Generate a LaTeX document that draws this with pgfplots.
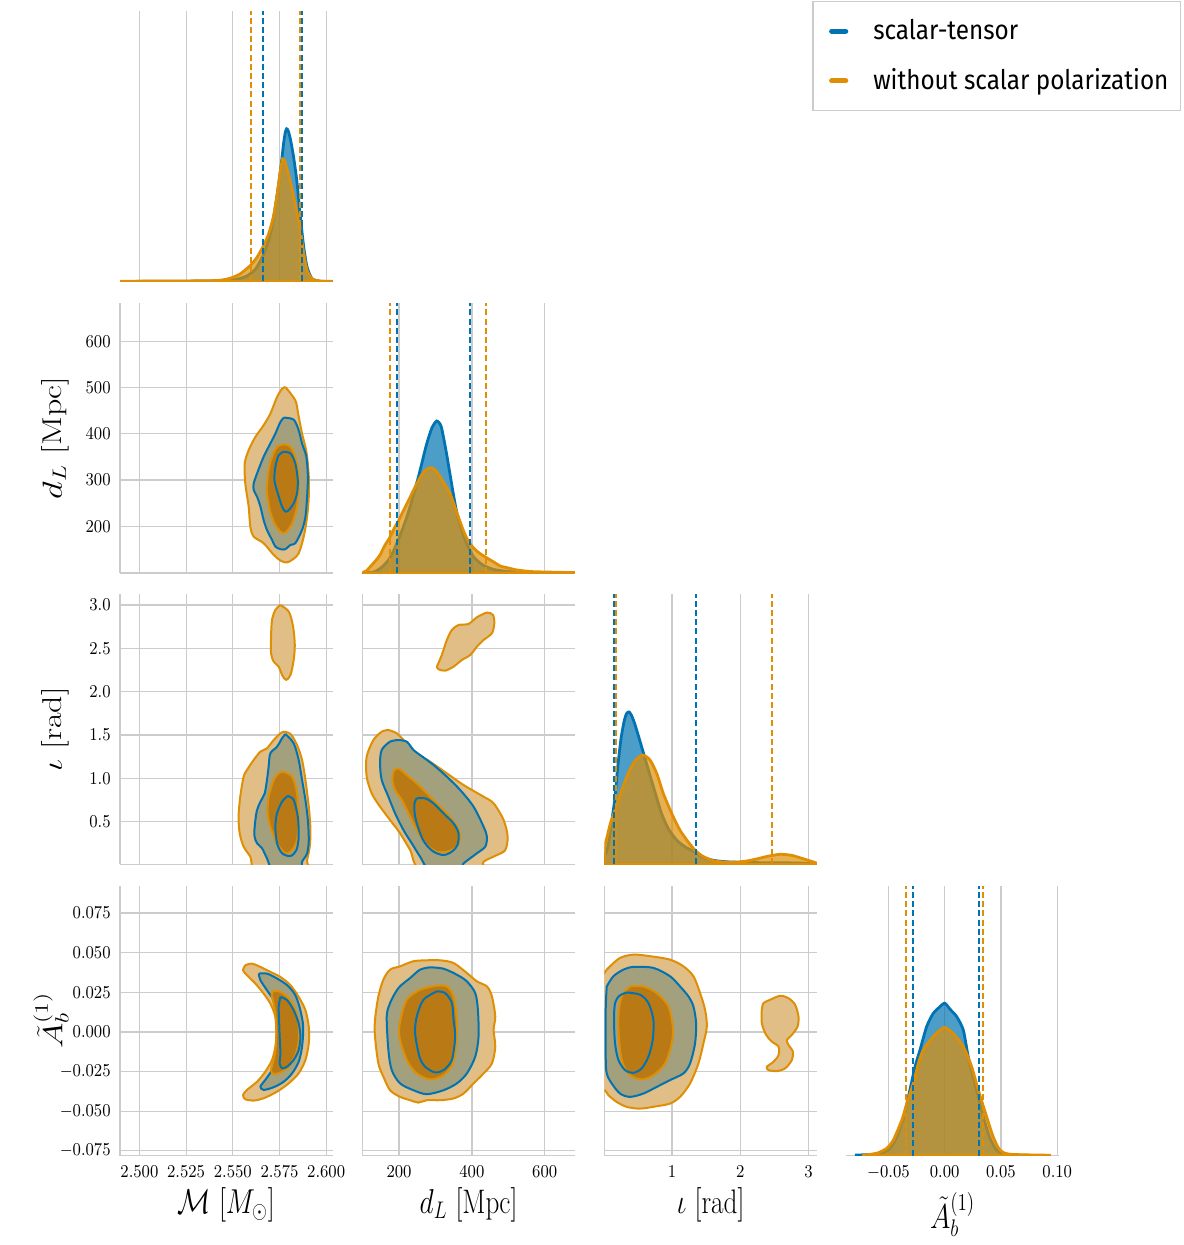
\documentclass[border=0pt]{standalone}
\usepackage{fontspec}
\usepackage{pgfplots}
\pgfplotsset{compat=1.18}
\newfontfamily\legendfont[FakeStretch=0.9]{Fira Sans}

\definecolor{cbblue}{HTML}{0173B2}
\definecolor{cborange}{HTML}{DE8F05}
\definecolor{gridgray}{HTML}{CCCCCC}
\definecolor{tanfill}{HTML}{E0BE85}
\definecolor{olivefill}{HTML}{A3A07D}
\definecolor{corefill}{HTML}{B97A16}

\pgfplotsset{
  cornerbase/.style={
    scale only axis, width=106.25pt, height=135pt,
    axis x line*=bottom, axis y line*=left,
    axis line style={draw=gridgray, line width=0.8pt, -},
    major tick length=0pt, scaled ticks=false,
    grid=major, major grid style={draw=gridgray, line width=0.6pt},
    tick label style={font=\fontsize{9}{10}\selectfont, xscale=0.9},
    xticklabel shift=1.5pt, yticklabel shift=1.5pt,
    label style={font=\fontsize{17}{20}\selectfont},
    xlabel style={at={(axis description cs:0.5,-0.117)}, anchor=north, inner sep=0pt, xscale=0.8},
    ylabel style={at={(axis description cs:-0.24,0.5)}, anchor=south, inner sep=0pt, yscale=0.8},
  },
  margbase/.style={cornerbase, axis y line=none, ymin=0, ymax=270, ytick=\empty,
    ymajorgrids=false, xmajorgrids=true},
  Mx/.style={xmin=2.4896, xmax=2.6034, xtick={2.5,2.525,2.55,2.575,2.6},
    xticklabel style={/pgf/number format/.cd, fixed, fixed zerofill, precision=3}},
  dLx/.style={xmin=99, xmax=682.6, xtick={200,400,600}},
  dLy/.style={ymin=99, ymax=682.6, ytick={200,300,400,500,600}},
  ix/.style={xmin=0.008, xmax=3.123, xtick={1,2,3}},
  iy/.style={ymin=0.008, ymax=3.123, ytick={0.5,1,1.5,2,2.5,3},
    yticklabel style={/pgf/number format/.cd, fixed, fixed zerofill, precision=1}},
  Ay/.style={ymin=-0.078, ymax=0.0924, ytick={-0.075,-0.05,-0.025,0,0.025,0.05,0.075},
    yticklabel style={/pgf/number format/.cd, fixed, fixed zerofill, precision=3}},
  Ax/.style={xmin=-0.0874, xmax=0.1014, xtick={-0.05,0,0.05,0.1},
    xticklabel style={/pgf/number format/.cd, fixed, fixed zerofill, precision=2}},
  noxl/.style={xticklabel={\relax}},
  noyl/.style={yticklabel={\relax}},
  % marginal densities
  bluekde/.style={draw=cbblue, line width=1.4pt, fill=cbblue, fill opacity=0.7, draw opacity=1, smooth, tension=0.4},
  orangekde/.style={draw=cborange, line width=1.4pt, fill=cborange, fill opacity=0.7, draw opacity=1, smooth, tension=0.4},
  bq/.style={draw=cbblue, line width=1pt, dash pattern=on 3pt off 1.6pt},
  oq/.style={draw=cborange, line width=1pt, dash pattern=on 3pt off 1.6pt},
  % credible-region contours
  oout/.style={fill=tanfill, draw=cborange, line width=1pt, smooth, tension=0.5, line join=round},
  bout/.style={fill=olivefill, draw=cbblue, line width=1pt, smooth, tension=0.5, line join=round},
  oin/.style={fill=corefill, draw=cborange, line width=1pt, smooth, tension=0.5, line join=round},
  bin/.style={fill=none, draw=cbblue, line width=1pt, smooth, tension=0.5, line join=round},
}

\begin{document}
\begin{tikzpicture}
\useasboundingbox (0,0) rectangle (591.5pt,-622.5pt);

% ---------- row 0: chirp mass marginal ----------
\begin{axis}[margbase, Mx, noxl, at={(60pt,-5.75pt)}, anchor=north west,
  legend style={at={(axis description cs:4.993,1.039)}, anchor=north east,
    draw=gridgray, line width=0.6pt, fill=white, text opacity=1,
    font=\legendfont\fontsize{13.5}{16}\selectfont,
    inner xsep=4pt, inner ysep=7pt, row sep=9pt, column sep=10.5pt},
  legend cell align=left,
  legend image code/.code={\path (0pt,0pt); \draw[#1, line width=2.6pt, line cap=round] (5pt,0pt) -- (12pt,0pt);}]
\addlegendimage{cbblue}
\addlegendentry{scalar-tensor}
\addlegendimage{cborange}
\addlegendentry{without scalar polarization}
\addplot[bluekde] table {
2.4896 0
2.5400 0.5
2.5500 1.5
2.5570 5
2.5620 12
2.5660 25
2.5690 40
2.5710 55
2.5728 75
2.5746 98
2.5760 118
2.5772 138
2.5781 149
2.5788 152.7
2.5796 151
2.5808 143
2.5826 124
2.5844 99
2.5862 64.3
2.5880 34.3
2.5898 14.3
2.5925 2.7
2.5970 0.3
2.6034 0
} \closedcycle;
\addplot[orangekde] table {
2.4896 0.3
2.5200 0.5
2.5415 1
2.5487 3.3
2.5540 7.7
2.5594 16
2.5630 24.3
2.5665 36
2.5692 47.7
2.5719 66
2.5740 90
2.5755 111
2.5767 122.7
2.5779 120
2.5791 112
2.5818 92
2.5844 67.7
2.5862 51
2.5880 27.7
2.5898 11
2.5925 2.7
2.5970 0.3
2.6034 0.3
} \closedcycle;
\addplot[oq] coordinates {(2.5599,0) (2.5599,270)};
\addplot[bq] coordinates {(2.5664,0) (2.5664,270)};
\addplot[oq] coordinates {(2.5862,0) (2.5862,270)};
\addplot[bq] coordinates {(2.5868,0) (2.5868,270)};
\end{axis}

% ---------- row 1 ----------
\begin{axis}[cornerbase, Mx, dLy, noxl, at={(60pt,-151.5pt)}, anchor=north west,
  ylabel={$d_L\ [\mathrm{Mpc}]$}]
\addplot[oout] coordinates {(2.5782,500.9) (2.5835,472.2) (2.5850,443.4) (2.5871,400.3) (2.5889,371.6) (2.5898,350.1) (2.5907,307.0) (2.5907,263.9) (2.5898,220.8) (2.5880,177.7) (2.5853,141.8) (2.5818,127.5) (2.5787,121.7) (2.5755,126.0) (2.5719,138.2) (2.5665,163.4) (2.5612,177.7) (2.5594,199.3) (2.5585,242.4) (2.5567,292.6) (2.5564,335.7) (2.5585,364.4) (2.5621,393.2) (2.5665,418.3) (2.5701,443.4) (2.5737,479.3) (2.5764,497.3) (2.5782,500.9)};
\addplot[bout] coordinates {(2.5773,434.8) (2.5826,430.5) (2.5853,407.5) (2.5871,378.8) (2.5894,350.1) (2.5902,307.0) (2.5898,263.9) (2.5889,220.8) (2.5871,192.1) (2.5835,163.4) (2.5809,159.8) (2.5782,150.5) (2.5755,150.5) (2.5728,156.2) (2.5710,170.6) (2.5683,192.1) (2.5665,213.6) (2.5648,242.4) (2.5630,263.9) (2.5612,278.3) (2.5612,292.6) (2.5630,314.2) (2.5665,350.1) (2.5701,378.8) (2.5728,400.4) (2.5755,425.5) (2.5773,434.8)};
\addplot[oin] coordinates {(2.5773,377.4) (2.5809,371.6) (2.5835,350.1) (2.5850,321.4) (2.5853,285.5) (2.5844,242.4) (2.5818,206.5) (2.5782,186.4) (2.5755,188.5) (2.5723,206.5) (2.5698,235.2) (2.5683,278.3) (2.5692,321.4) (2.5710,350.1) (2.5737,371.6) (2.5773,377.4)};
\addplot[bin] coordinates {(2.5773,360.9) (2.5809,357.3) (2.5835,335.7) (2.5848,299.8) (2.5844,271.1) (2.5826,249.5) (2.5800,235.2) (2.5782,231.6) (2.5764,242.4) (2.5741,271.1) (2.5723,299.8) (2.5728,328.5) (2.5746,353.7) (2.5773,360.9)};
\end{axis}

\begin{axis}[margbase, dLx, noxl, at={(181.15pt,-151.5pt)}, anchor=north west]
\addplot[bluekde] table {
99 0
130 1
150 5
175 15
200 35
225 60
253 96
275 128
290 145
303.7 152
316 146
331 118
349.5 78
360 58
375 40
386.3 29
405 16
430 8
460 3.5
500 1.5
560 0.4
682.6 0
} \closedcycle;
\addplot[orangekde] table {
99 0.5
110 2
120 6
135 12
147.7 18
160 27
175.2 36
187 45
198 52
210 61
221.2 69
240 83
260 97
275 103.5
287.2 105.3
300 103
320 92
340.4 79
358 61
377 42
390 32
404.5 25
420 20
441.4 15
460 11
478 7
500 5
524 3
560 1.5
600 1
682.6 0.4
} \closedcycle;
\addplot[oq] coordinates {(175.2,0) (175.2,270)};
\addplot[bq] coordinates {(195.3,0) (195.3,270)};
\addplot[bq] coordinates {(393.5,0) (393.5,270)};
\addplot[oq] coordinates {(439.8,0) (439.8,270)};
\end{axis}

% ---------- row 2 ----------
\begin{axis}[cornerbase, Mx, iy, noxl, at={(60pt,-297.15pt)}, anchor=north west,
  ylabel={$\iota\ [\mathrm{rad}]$}]
\addplot[oout] coordinates {(2.5755,3.0) (2.5800,2.923) (2.5823,2.75) (2.5832,2.538) (2.5826,2.365) (2.5809,2.192) (2.5785,2.135) (2.5764,2.192) (2.5746,2.288) (2.5719,2.346) (2.5705,2.442) (2.5705,2.635) (2.5710,2.827) (2.5728,2.942) (2.5755,3.0)};
\addplot[oout] coordinates {(2.5773,1.538) (2.5809,1.512) (2.5844,1.385) (2.5871,1.212) (2.5889,0.981) (2.5907,0.673) (2.5916,0.404) (2.5912,0.212) (2.5898,0.058) (2.5884,-0.058) (2.5630,-0.058) (2.5594,0.096) (2.5558,0.212) (2.5537,0.365) (2.5531,0.558) (2.5540,0.788) (2.5558,1.019) (2.5576,1.096) (2.5612,1.212) (2.5648,1.308) (2.5683,1.346) (2.5719,1.442) (2.5755,1.519) (2.5773,1.538)};
\addplot[bout] coordinates {(2.5782,1.512) (2.5826,1.404) (2.5853,1.212) (2.5871,0.981) (2.5889,0.75) (2.5902,0.519) (2.5907,0.288) (2.5898,0.135) (2.5871,0.038) (2.5857,-0.058) (2.5719,-0.058) (2.5683,0.077) (2.5657,0.192) (2.5630,0.25) (2.5615,0.346) (2.5621,0.519) (2.5630,0.635) (2.5648,0.731) (2.5671,0.827) (2.5683,0.981) (2.5692,1.135) (2.5701,1.288) (2.5737,1.365) (2.5764,1.462) (2.5782,1.512)};
\addplot[oin] coordinates {(2.5769,1.077) (2.5818,1.019) (2.5844,0.827) (2.5853,0.519) (2.5844,0.288) (2.5818,0.173) (2.5782,0.135) (2.5737,0.25) (2.5701,0.442) (2.5687,0.596) (2.5692,0.788) (2.5719,0.981) (2.5746,1.058) (2.5769,1.077)};
\addplot[bin] coordinates {(2.5794,0.796) (2.5826,0.75) (2.5848,0.558) (2.5853,0.327) (2.5841,0.173) (2.5809,0.104) (2.5764,0.135) (2.5737,0.25) (2.5728,0.442) (2.5737,0.596) (2.5764,0.731) (2.5794,0.796)};
\end{axis}

\begin{axis}[cornerbase, dLx, iy, noxl, noyl, at={(181.15pt,-297.15pt)}, anchor=north west]
\addplot[oout] coordinates {(303.7,2.288) (317.4,2.423) (331.2,2.596) (345.0,2.712) (363.3,2.769) (390.8,2.781) (413.8,2.858) (441.3,2.912) (457.8,2.885) (461.5,2.788) (455.0,2.673) (432.1,2.596) (413.8,2.519) (395.4,2.423) (372.5,2.365) (349.5,2.288) (326.6,2.242) (308.3,2.258) (303.7,2.288)};
\addplot[oout] coordinates {(170.6,1.558) (193.6,1.519) (221.1,1.404) (248.6,1.288) (285.3,1.192) (331.2,1.058) (377.1,0.923) (432.1,0.788) (459.6,0.712) (487.1,0.519) (498.2,0.327) (491.7,0.173) (468.8,0.115) (432.1,0.038) (418.3,-0.058) (262.4,-0.058) (230.3,0.173) (202.8,0.365) (175.2,0.519) (147.7,0.673) (124.8,0.827) (111.0,1.019) (111.0,1.25) (129.4,1.442) (152.3,1.538) (170.6,1.558)};
\addplot[bout] coordinates {(198.2,1.442) (221.1,1.423) (239.4,1.327) (257.8,1.269) (294.5,1.154) (331.2,1.019) (367.9,0.865) (404.6,0.673) (432.1,0.442) (441.3,0.327) (436.7,0.212) (413.8,0.135) (377.1,0.019) (363.3,-0.058) (285.3,-0.058) (257.8,0.096) (234.9,0.25) (211.9,0.404) (189.0,0.596) (170.6,0.788) (152.3,0.981) (147.7,1.173) (152.3,1.327) (175.2,1.423) (198.2,1.442)};
\addplot[oin] coordinates {(193.6,1.115) (202.8,1.104) (221.1,1.038) (248.6,0.942) (276.1,0.827) (303.7,0.712) (331.2,0.596) (358.7,0.442) (367.9,0.327) (358.7,0.212) (331.2,0.154) (303.7,0.154) (276.1,0.231) (253.2,0.365) (230.3,0.558) (207.3,0.75) (189.0,0.865) (181.7,0.981) (184.4,1.077) (193.6,1.115)};
\addplot[bin] coordinates {(248.6,0.769) (271.6,0.769) (294.5,0.712) (322.0,0.596) (349.5,0.481) (363.3,0.365) (360.5,0.231) (345.0,0.154) (322.0,0.115) (294.5,0.154) (271.6,0.25) (257.8,0.365) (244.0,0.558) (242.2,0.712) (248.6,0.769)};
\end{axis}

\begin{axis}[margbase, ix, noxl, at={(302.2pt,-297.15pt)}, anchor=north west]
\addplot[bluekde] table {
0.008 8
0.04 13
0.066 20
0.1 35
0.13 50
0.164 67
0.2 95
0.25 125
0.3 144
0.335 151
0.37 152.3
0.405 149
0.45 141
0.5 130
0.556 117
0.65 95
0.75 72
0.85 50
0.95 35
1.07 24
1.2 17
1.337 12.3
1.45 7
1.606 4
1.8 2.5
2.2 1.7
2.6 1.6
3.0 1
3.123 0.8
} \closedcycle;
\addplot[orangekde] table {
0.008 17
0.042 26
0.1 42
0.164 54
0.25 72
0.35 90
0.45 103
0.57 109.3
0.68 104
0.78 90
0.872 70.7
1.0 50
1.117 34
1.23 23
1.337 14
1.45 8
1.606 3.5
1.75 2.3
1.85 2
1.95 2.2
2.095 3.3
2.25 5.5
2.4 8
2.584 10
2.75 9
2.9 6
3.072 2.3
3.123 1
} \closedcycle;
\addplot[bq] coordinates {(0.154,0) (0.154,270)};
\addplot[oq] coordinates {(0.174,0) (0.174,270)};
\addplot[bq] coordinates {(1.352,0) (1.352,270)};
\addplot[oq] coordinates {(2.462,0) (2.462,270)};
\end{axis}

% ---------- row 3 ----------
\begin{axis}[cornerbase, Mx, Ay, at={(60pt,-442.75pt)}, anchor=north west,
  xlabel={$\mathcal{M}\ [M_\odot]$}, ylabel={$\tilde{A}_b^{(1)}$}]
\addplot[oout] coordinates {(2.5567,0.0421) (2.5603,0.0431) (2.5648,0.0410) (2.5701,0.0379) (2.5755,0.0347) (2.5809,0.0295) (2.5853,0.0221) (2.5889,0.0137) (2.5907,0.0032) (2.5907,-0.0072) (2.5889,-0.0177) (2.5853,-0.0261) (2.5800,-0.0324) (2.5737,-0.0377) (2.5665,-0.0419) (2.5612,-0.0433) (2.5567,-0.0425) (2.5555,-0.0398) (2.5576,-0.0366) (2.5630,-0.0314) (2.5674,-0.0251) (2.5710,-0.0177) (2.5728,-0.0093) (2.5733,-0.0009) (2.5728,0.0095) (2.5701,0.0179) (2.5665,0.0242) (2.5621,0.0305) (2.5576,0.0358) (2.5555,0.0389) (2.5567,0.0421)};
\addplot[bout] coordinates {(2.5639,0.0368) (2.5683,0.0368) (2.5737,0.0337) (2.5791,0.0295) (2.5835,0.0232) (2.5862,0.0137) (2.5877,0.0033) (2.5871,-0.0093) (2.5853,-0.0188) (2.5818,-0.0261) (2.5773,-0.0314) (2.5719,-0.0349) (2.5665,-0.0366) (2.5648,-0.0345) (2.5674,-0.0303) (2.5710,-0.0240) (2.5737,-0.0156) (2.5751,-0.0072) (2.5755,0.0012) (2.5746,0.0116) (2.5719,0.0200) (2.5683,0.0263) (2.5648,0.0326) (2.5639,0.0368)};
\addplot[oin] coordinates {(2.5716,0.0259) (2.5755,0.0253) (2.5800,0.0211) (2.5835,0.0137) (2.5853,0.0043) (2.5853,-0.0062) (2.5835,-0.0146) (2.5800,-0.0219) (2.5755,-0.0257) (2.5716,-0.0265) (2.5705,-0.0240) (2.5719,-0.0177) (2.5730,-0.0093) (2.5733,-0.0009) (2.5730,0.0085) (2.5719,0.0179) (2.5708,0.0232) (2.5716,0.0259)};
\addplot[bin] coordinates {(2.5755,0.0221) (2.5791,0.0200) (2.5826,0.0137) (2.5853,0.0053) (2.5862,-0.0030) (2.5853,-0.0114) (2.5826,-0.0177) (2.5791,-0.0219) (2.5764,-0.0230) (2.5751,-0.0198) (2.5755,-0.0135) (2.5751,-0.0030) (2.5748,0.0075) (2.5746,0.0158) (2.5755,0.0221)};
\end{axis}

\begin{axis}[cornerbase, dLx, Ay, noyl, at={(181.15pt,-442.75pt)}, anchor=north west,
  xlabel={$d_L\ [\mathrm{Mpc}]$}]
\addplot[oout] coordinates {(276.1,0.0452) (312.8,0.0452) (349.5,0.0435) (386.2,0.0372) (413.8,0.0319) (441.3,0.0287) (455.0,0.0224) (464.2,0.0097) (459.6,0.0013) (464.2,-0.0093) (455.0,-0.0199) (432.1,-0.0262) (404.6,-0.0325) (377.1,-0.0389) (349.5,-0.0420) (312.8,-0.0431) (276.1,-0.0431) (253.2,-0.0446) (230.3,-0.0431) (202.8,-0.0410) (175.2,-0.0368) (156.9,-0.0283) (143.1,-0.0199) (133.9,-0.0030) (133.9,0.0076) (143.1,0.0224) (156.9,0.0330) (175.2,0.0393) (202.8,0.0414) (239.4,0.0446) (276.1,0.0452)};
\addplot[bout] coordinates {(285.3,0.0408) (322.0,0.0399) (358.7,0.0361) (386.2,0.0319) (409.2,0.0245) (416.5,0.0139) (418.3,-0.0030) (409.2,-0.0156) (386.2,-0.0262) (358.7,-0.0325) (322.0,-0.0368) (276.1,-0.0393) (239.4,-0.0368) (202.8,-0.0325) (179.8,-0.0241) (170.6,-0.0114) (166.1,0.0097) (175.2,0.0182) (198.2,0.0277) (230.3,0.0340) (257.8,0.0393) (285.3,0.0408)};
\addplot[oin] coordinates {(303.7,0.0292) (331.2,0.0287) (349.5,0.0224) (358.7,0.0076) (356.9,-0.0072) (347.7,-0.0199) (322.0,-0.0273) (285.3,-0.0300) (248.6,-0.0262) (221.1,-0.0177) (200.9,-0.0030) (203.7,0.0076) (221.1,0.0203) (257.8,0.0266) (303.7,0.0292)};
\addplot[bin] coordinates {(303.7,0.0256) (326.6,0.0245) (345.0,0.0182) (349.5,0.0076) (354.1,-0.0030) (345.0,-0.0177) (322.0,-0.0241) (299.1,-0.0256) (271.6,-0.0220) (256.0,-0.0156) (244.0,-0.0008) (248.6,0.0097) (267.0,0.0203) (303.7,0.0256)};
\end{axis}

\begin{axis}[cornerbase, ix, Ay, noyl, at={(302.2pt,-442.75pt)}, anchor=north west,
  xlabel={$\iota\ [\mathrm{rad}]$}]
\addplot[oout] coordinates {(-0.056,0.0330) (0.042,0.0393) (0.090,0.0414) (0.237,0.0467) (0.433,0.0488) (0.677,0.0478) (0.971,0.0456) (1.166,0.0414) (1.313,0.0351) (1.411,0.0245) (1.484,0.0139) (1.509,0.0034) (1.460,-0.0072) (1.386,-0.0199) (1.264,-0.0325) (1.117,-0.0410) (0.971,-0.0452) (0.775,-0.0469) (0.531,-0.0484) (0.335,-0.0473) (0.188,-0.0442) (0.066,-0.0399) (0.017,-0.0368) (-0.056,-0.0325) (-0.056,0.0330)};
\addplot[oout] coordinates {(2.315,0.0139) (2.340,0.0182) (2.438,0.0203) (2.584,0.0228) (2.707,0.0213) (2.804,0.0171) (2.853,0.0097) (2.839,0.0034) (2.756,-0.0019) (2.682,-0.0051) (2.707,-0.0082) (2.770,-0.0125) (2.756,-0.0177) (2.658,-0.0230) (2.535,-0.0247) (2.413,-0.0241) (2.389,-0.0220) (2.487,-0.0188) (2.560,-0.0146) (2.560,-0.0093) (2.462,-0.0061) (2.379,-0.0019) (2.315,0.0055) (2.315,0.0139)};
\addplot[bout] coordinates {(0.042,0.0287) (0.139,0.0351) (0.286,0.0393) (0.433,0.0410) (0.726,0.0404) (0.971,0.0351) (1.117,0.0287) (1.240,0.0224) (1.313,0.0161) (1.352,0.0055) (1.337,-0.0072) (1.264,-0.0199) (1.166,-0.0262) (0.971,-0.0304) (0.775,-0.0347) (0.579,-0.0389) (0.384,-0.0410) (0.237,-0.0389) (0.115,-0.0325) (0.042,-0.0262) (0.027,-0.0156) (0.027,0.0139) (0.042,0.0287)};
\addplot[oin] coordinates {(0.384,0.0287) (0.579,0.0287) (0.775,0.0245) (0.946,0.0161) (1.010,0.0034) (0.995,-0.0072) (0.897,-0.0199) (0.726,-0.0273) (0.555,-0.0300) (0.384,-0.0273) (0.276,-0.0199) (0.227,-0.0072) (0.213,0.0097) (0.262,0.0224) (0.384,0.0287)};
\addplot[bin] coordinates {(0.335,0.0249) (0.531,0.0235) (0.653,0.0182) (0.726,0.0076) (0.716,-0.0051) (0.653,-0.0156) (0.555,-0.0230) (0.433,-0.0258) (0.311,-0.0241) (0.213,-0.0177) (0.164,-0.0072) (0.149,0.0076) (0.164,0.0182) (0.227,0.0228) (0.335,0.0249)};
\end{axis}

\begin{axis}[margbase, Ax, at={(423.15pt,-442.75pt)}, anchor=north west,
  xlabel={$\tilde{A}_b^{(1)}$},
  xlabel style={at={(axis description cs:0.5,-0.135)}}]
\addplot[bluekde] table {
-0.0786 0.5
-0.065 1
-0.055 3
-0.048 8
-0.042 20
-0.036 40
-0.031 65
-0.0263 89
-0.0219 105.7
-0.016 129
-0.0101 142.3
-0.005 148
0.0 152.3
0.005 146
0.0106 139
0.0165 125.7
0.0209 99
0.0253 79
0.030 58
0.035 36
0.040 18
0.045 7
0.050 2.5
0.056 1
0.065 0.3
0.080 0
} \closedcycle;
\addplot[orangekde] table {
-0.072 0.3
-0.0602 2.3
-0.0513 7.3
-0.0455 15.7
-0.038 35.7
-0.0336 52.3
-0.0278 72.3
-0.0233 92.3
-0.0189 105.7
-0.0101 119
-0.0006 128
0.0076 122
0.0165 109
0.0239 89
0.0298 65.7
0.0372 39
0.043 19
0.0489 5.7
0.0578 1.3
0.0932 0.3
} \closedcycle;
\addplot[oq] coordinates {(-0.0342,0) (-0.0342,270)};
\addplot[bq] coordinates {(-0.0283,0) (-0.0283,270)};
\addplot[bq] coordinates {(0.0301,0) (0.0301,270)};
\addplot[oq] coordinates {(0.0342,0) (0.0342,270)};
\end{axis}
\end{tikzpicture}
\end{document}
